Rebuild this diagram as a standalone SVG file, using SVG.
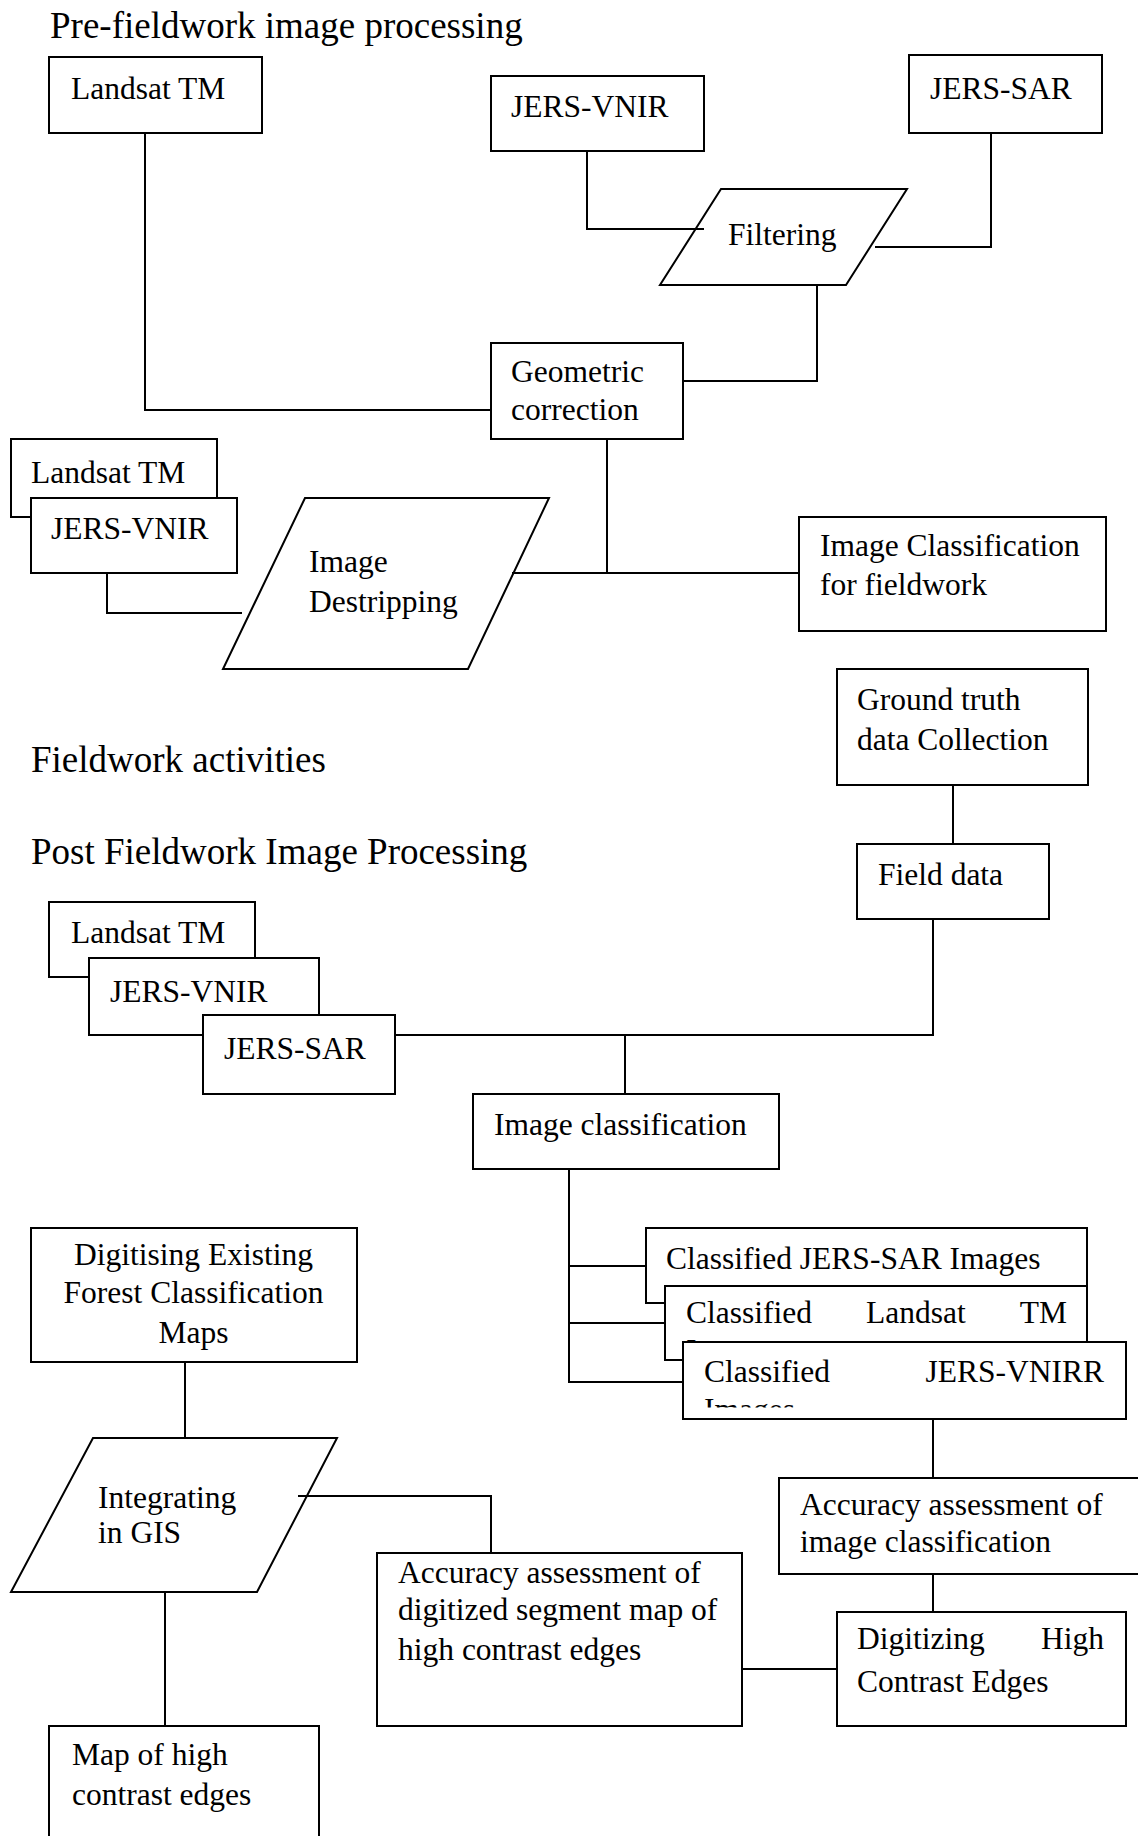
<svg xmlns="http://www.w3.org/2000/svg" width="1138" height="1836" viewBox="0 0 1138 1836">
<style>
text{font-family:"Liberation Serif","Times New Roman",serif;fill:#000}
.h{font-size:37px}
.t{font-size:31.5px}
.n{fill:#fff;stroke:#000;stroke-width:2}
.c{fill:none;stroke:#000;stroke-width:2}
</style>
<defs>
<clipPath id="clipIC"><rect x="800" y="518" width="282" height="112"/></clipPath>
<clipPath id="clipVN"><rect x="684" y="1342" width="440" height="65.5"/></clipPath>
<clipPath id="clipLT"><rect x="666" y="1287" width="420" height="54"/></clipPath>
</defs>
<rect width="1138" height="1836" fill="#fff"/>
<g id="headings">
<text class="h" x="50" y="38">Pre-fieldwork image processing</text>
<text class="h" x="31" y="772">Fieldwork activities</text>
<text class="h" x="31" y="864">Post Fieldwork Image Processing</text>
</g>
<g id="nodes">
<g id="landsat1"><rect class="n" x="49" y="57" width="213" height="76"/><text class="t" x="71" y="99">Landsat TM</text></g>
<g id="jersvnir1"><rect class="n" x="491" y="76" width="213" height="75"/><text class="t" x="511" y="117">JERS-VNIR</text></g>
<g id="jerssar1"><rect class="n" x="909" y="55" width="193" height="78"/><text class="t" x="930" y="99">JERS-SAR</text></g>
<g id="filtering"><polygon class="n" points="721,189 907,189 846,285 660,285"/><text class="t" x="728" y="245">Filtering</text></g>
<g id="geometric"><rect class="n" x="491" y="343" width="192" height="96"/><text class="t" x="511" y="382">Geometric</text><text class="t" x="511" y="420">correction</text></g>
<g id="landsat2"><rect class="n" x="11" y="439" width="206" height="78"/><text class="t" x="31" y="483">Landsat TM</text></g>
<g id="jersvnir2"><rect class="n" x="31" y="498" width="206" height="75"/><text class="t" x="51" y="539">JERS-VNIR</text></g>
<g id="destripping"><polygon class="n" points="305,498 549,498 468,669 223,669"/><text class="t" x="309" y="572">Image</text><text class="t" x="309" y="612">Destripping</text></g>
<g id="imgclassfield"><rect class="n" x="799" y="517" width="307" height="114"/><g clip-path="url(#clipIC)"><text class="t" x="820" y="556">Image Classification</text></g><text class="t" x="820" y="595">for fieldwork</text></g>
<g id="groundtruth"><rect class="n" x="837" y="669" width="251" height="116"/><text class="t" x="857" y="710">Ground truth</text><text class="t" x="857" y="750">data Collection</text></g>
<g id="fielddata"><rect class="n" x="857" y="844" width="192" height="75"/><text class="t" x="878" y="885">Field data</text></g>
<g id="landsat3"><rect class="n" x="49" y="902" width="206" height="75"/><text class="t" x="71" y="943">Landsat TM</text></g>
<g id="jersvnir3"><rect class="n" x="89" y="958" width="230" height="77"/><text class="t" x="110" y="1002">JERS-VNIR</text></g>
<g id="jerssar3"><rect class="n" x="203" y="1015" width="192" height="79"/><text class="t" x="224" y="1059">JERS-SAR</text></g>
<g id="imageclassification"><rect class="n" x="473" y="1094" width="306" height="75"/><text class="t" x="494" y="1135">Image classification</text></g>
<g id="digitisingexisting"><rect class="n" x="31" y="1228" width="326" height="134"/><text class="t" x="193.5" y="1265" text-anchor="middle">Digitising Existing</text><text class="t" x="193.5" y="1303" text-anchor="middle">Forest Classification</text><text class="t" x="193.5" y="1343" text-anchor="middle">Maps</text></g>
<g id="classsar"><rect class="n" x="646" y="1228" width="441" height="75"/><text class="t" x="666" y="1269">Classified JERS-SAR Images</text></g>
<g id="classlandsat"><rect class="n" x="665" y="1286" width="422" height="74"/><text class="t" x="686" y="1323">Classified</text><text class="t" x="866" y="1323">Landsat</text><text class="t" x="1067" y="1323" text-anchor="end">TM</text><g clip-path="url(#clipLT)"><text class="t" x="686" y="1361">Images</text></g></g>
<g id="classvnirr"><rect class="n" x="683" y="1342" width="443" height="77"/><text class="t" x="704" y="1382">Classified</text><text class="t" x="1104" y="1382" text-anchor="end">JERS-VNIRR</text><g clip-path="url(#clipVN)"><text class="t" x="704" y="1420">Images</text></g></g>
<g id="integrating"><polygon class="n" points="93,1438 337,1438 257,1592 11,1592"/><text class="t" x="98" y="1508">Integrating</text><text class="t" x="98" y="1543">in GIS</text></g>
<g id="accimg"><rect class="n" x="779" y="1478" width="370" height="96"/><text class="t" x="800" y="1515">Accuracy assessment of</text><text class="t" x="800" y="1552">image classification</text></g>
<g id="accdig"><rect class="n" x="377" y="1553" width="365" height="173"/><text class="t" x="398" y="1583">Accuracy assessment of</text><text class="t" x="398" y="1620">digitized segment map of</text><text class="t" x="398" y="1660">high contrast edges</text></g>
<g id="digitizinghigh"><rect class="n" x="837" y="1612" width="289" height="114"/><text class="t" x="857" y="1649">Digitizing</text><text class="t" x="1104" y="1649" text-anchor="end">High</text><text class="t" x="857" y="1692">Contrast Edges</text></g>
<g id="mapedges"><rect class="n" x="49" y="1726" width="270" height="130"/><text class="t" x="72" y="1765">Map of high</text><text class="t" x="72" y="1805">contrast edges</text></g>
</g>
<g id="connectors">
<polyline class="c" points="145,133 145,410 491,410"/>
<polyline class="c" points="587,151 587,229 704,229"/>
<polyline class="c" points="991,133 991,247 875,247"/>
<polyline class="c" points="817,285 817,381 683,381"/>
<line class="c" x1="607" y1="439" x2="607" y2="573"/>
<line class="c" x1="512" y1="573" x2="799" y2="573"/>
<polyline class="c" points="107,573 107,613 242,613"/>
<line class="c" x1="953" y1="785" x2="953" y2="844"/>
<polyline class="c" points="395,1035 933,1035 933,919"/>
<line class="c" x1="625" y1="1035" x2="625" y2="1094"/>
<polyline class="c" points="569,1169 569,1382 683,1382"/>
<line class="c" x1="569" y1="1266" x2="646" y2="1266"/>
<line class="c" x1="569" y1="1323" x2="665" y2="1323"/>
<line class="c" x1="933" y1="1419" x2="933" y2="1478"/>
<line class="c" x1="933" y1="1574" x2="933" y2="1612"/>
<line class="c" x1="742" y1="1669" x2="837" y2="1669"/>
<line class="c" x1="185" y1="1362" x2="185" y2="1438"/>
<polyline class="c" points="298,1496 491,1496 491,1553"/>
<line class="c" x1="165" y1="1592" x2="165" y2="1726"/>
</g>
</svg>
